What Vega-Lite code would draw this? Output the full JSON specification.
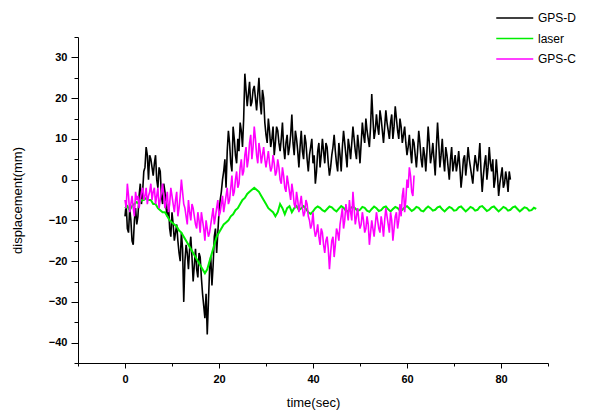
{
 "$schema": "https://vega.github.io/schema/vega-lite/v6.json",
 "width": 470, "height": 326,
 "autosize": "none",
 "padding": {"left": 78, "top": 37, "right": 41, "bottom": 49},
 "background": "white",
 "config": {"view": {"stroke": null}, "font": "Liberation Sans"},
 "data": {"values": [
{"t":0,"GPS-D":-9,"laser":-7,"GPS-C":-5},
{"t":0.25,"GPS-D":-6,"GPS-C":-7},
{"t":0.5,"GPS-D":-12,"laser":-6.5,"GPS-C":-1},
{"t":0.75,"GPS-D":-13,"GPS-C":-4},
{"t":1,"GPS-D":-7,"laser":-7.5,"GPS-C":-8},
{"t":1.25,"GPS-D":-10,"GPS-C":-6},
{"t":1.5,"GPS-D":-15,"laser":-6.5,"GPS-C":-4},
{"t":1.75,"GPS-D":-16,"GPS-C":-7},
{"t":2,"GPS-D":-10,"laser":-6,"GPS-C":-9},
{"t":2.25,"GPS-D":-7,"GPS-C":-3},
{"t":2.5,"GPS-D":-11,"laser":-5.5,"GPS-C":-5},
{"t":2.75,"GPS-D":-9,"GPS-C":-4},
{"t":3,"GPS-D":-4,"laser":-6,"GPS-C":-7},
{"t":3.25,"GPS-D":-1,"GPS-C":-5},
{"t":3.5,"GPS-D":-6,"laser":-5,"GPS-C":-3},
{"t":3.75,"GPS-D":-3,"GPS-C":-2},
{"t":4,"GPS-D":2,"laser":-5,"GPS-C":-5},
{"t":4.25,"GPS-D":3,"GPS-C":-4},
{"t":4.5,"GPS-D":8,"laser":-4.5,"GPS-C":-2},
{"t":4.75,"GPS-D":6,"GPS-C":-6},
{"t":5,"GPS-D":0,"laser":-5,"GPS-C":-4},
{"t":5.25,"GPS-D":6,"GPS-C":-3},
{"t":5.5,"GPS-D":5,"laser":-5,"GPS-C":-1},
{"t":5.75,"GPS-D":3,"GPS-C":-5},
{"t":6,"GPS-D":1,"laser":-6,"GPS-C":-3},
{"t":6.25,"GPS-D":4,"GPS-C":-2},
{"t":6.5,"GPS-D":6,"laser":-6,"GPS-C":-6},
{"t":6.75,"GPS-D":0,"GPS-C":-4},
{"t":7,"GPS-D":-2,"laser":-7,"GPS-C":-2},
{"t":7.25,"GPS-D":3,"GPS-C":-7},
{"t":7.5,"GPS-D":2,"laser":-7.5,"GPS-C":-5},
{"t":7.75,"GPS-D":-4,"GPS-C":-3},
{"t":8,"GPS-D":-6,"laser":-8,"GPS-C":-1},
{"t":8.25,"GPS-D":-1,"GPS-C":-4},
{"t":8.5,"GPS-D":-3,"laser":-8,"GPS-C":-7},
{"t":8.75,"GPS-D":-7,"GPS-C":-5},
{"t":9,"GPS-D":-9,"laser":-9,"GPS-C":-3},
{"t":9.25,"GPS-D":-6,"GPS-C":-8},
{"t":9.5,"GPS-D":-12,"laser":-10,"GPS-C":-6},
{"t":9.75,"GPS-D":-14,"GPS-C":-2},
{"t":10,"GPS-D":-8,"laser":-10.5,"GPS-C":-4},
{"t":10.25,"GPS-D":-11,"GPS-C":-6},
{"t":10.5,"GPS-D":-15,"laser":-11,"GPS-C":-8},
{"t":10.75,"GPS-D":-13,"GPS-C":-5},
{"t":11,"GPS-D":-11,"laser":-11.5,"GPS-C":-3},
{"t":11.25,"GPS-D":-15,"GPS-C":-9},
{"t":11.5,"GPS-D":-18,"laser":-12.5,"GPS-C":-7},
{"t":11.75,"GPS-D":-20,"GPS-C":-4},
{"t":12,"GPS-D":-13,"laser":-13,"GPS-C":0},
{"t":12.25,"GPS-D":-17,"GPS-C":-3},
{"t":12.5,"GPS-D":-30,"laser":-14,"GPS-C":-6},
{"t":12.75,"GPS-D":-20,"GPS-C":-7},
{"t":13,"GPS-D":-16,"laser":-15,"GPS-C":-9},
{"t":13.25,"GPS-D":-18,"GPS-C":-11},
{"t":13.5,"GPS-D":-22,"laser":-16,"GPS-C":-5},
{"t":13.75,"GPS-D":-17,"GPS-C":-8},
{"t":14,"GPS-D":-14,"laser":-17,"GPS-C":-10},
{"t":14.25,"GPS-D":-19,"GPS-C":-6},
{"t":14.5,"GPS-D":-25,"laser":-18,"GPS-C":-7},
{"t":14.75,"GPS-D":-21,"GPS-C":-9},
{"t":15,"GPS-D":-17,"laser":-19,"GPS-C":-11},
{"t":15.25,"GPS-D":-22,"GPS-C":-12},
{"t":15.5,"GPS-D":-24,"laser":-20,"GPS-C":-8},
{"t":15.75,"GPS-D":-18,"GPS-C":-10},
{"t":16,"GPS-D":-19,"laser":-21,"GPS-C":-13},
{"t":16.25,"GPS-D":-24,"GPS-C":-8},
{"t":16.5,"GPS-D":-28,"laser":-22,"GPS-C":-10},
{"t":16.75,"GPS-D":-31,"GPS-C":-12},
{"t":17,"GPS-D":-34,"laser":-23,"GPS-C":-15},
{"t":17.25,"GPS-D":-28,"GPS-C":-10},
{"t":17.5,"GPS-D":-38,"laser":-22,"GPS-C":-12},
{"t":17.75,"GPS-D":-30,"GPS-C":-14},
{"t":18,"GPS-D":-22,"laser":-20,"GPS-C":-13},
{"t":18.25,"GPS-D":-19,"GPS-C":-11},
{"t":18.5,"GPS-D":-26,"laser":-18,"GPS-C":-9},
{"t":18.75,"GPS-D":-21,"GPS-C":-7},
{"t":19,"GPS-D":-14,"laser":-16,"GPS-C":-11},
{"t":19.25,"GPS-D":-12,"GPS-C":-9},
{"t":19.5,"GPS-D":-18,"laser":-14,"GPS-C":-7},
{"t":19.75,"GPS-D":-13,"GPS-C":-5},
{"t":20,"GPS-D":-8,"laser":-13,"GPS-C":-9},
{"t":20.25,"GPS-D":-5,"GPS-C":-8},
{"t":20.5,"GPS-D":-3,"laser":-12,"GPS-C":-6},
{"t":20.75,"GPS-D":0,"GPS-C":-4},
{"t":21,"GPS-D":2,"laser":-11,"GPS-C":-8},
{"t":21.25,"GPS-D":5,"GPS-C":-6},
{"t":21.5,"GPS-D":-2,"laser":-10.5,"GPS-C":-4},
{"t":21.75,"GPS-D":7,"GPS-C":-2},
{"t":22,"GPS-D":12,"laser":-10,"GPS-C":-6},
{"t":22.25,"GPS-D":9,"GPS-C":-5},
{"t":22.5,"GPS-D":4,"laser":-9,"GPS-C":-2},
{"t":22.75,"GPS-D":2,"GPS-C":1},
{"t":23,"GPS-D":13,"laser":-8.5,"GPS-C":-4},
{"t":23.25,"GPS-D":10,"GPS-C":-3},
{"t":23.5,"GPS-D":6,"laser":-7.5,"GPS-C":0},
{"t":23.75,"GPS-D":4,"GPS-C":2},
{"t":24,"GPS-D":10,"laser":-7,"GPS-C":-2},
{"t":24.25,"GPS-D":7,"GPS-C":-1},
{"t":24.5,"GPS-D":14,"laser":-6,"GPS-C":3},
{"t":24.75,"GPS-D":12,"GPS-C":5},
{"t":25,"GPS-D":8,"laser":-5,"GPS-C":1},
{"t":25.25,"GPS-D":15,"GPS-C":2},
{"t":25.5,"GPS-D":26,"laser":-4.5,"GPS-C":6},
{"t":25.75,"GPS-D":22,"GPS-C":8},
{"t":26,"GPS-D":18,"laser":-3.5,"GPS-C":3},
{"t":26.25,"GPS-D":21,"GPS-C":5},
{"t":26.5,"GPS-D":24,"laser":-3,"GPS-C":9},
{"t":26.75,"GPS-D":18,"GPS-C":11},
{"t":27,"GPS-D":19,"laser":-2.5,"GPS-C":5},
{"t":27.25,"GPS-D":22,"GPS-C":8},
{"t":27.5,"GPS-D":23,"laser":-2,"GPS-C":13},
{"t":27.75,"GPS-D":20,"GPS-C":10},
{"t":28,"GPS-D":17,"laser":-2.5,"GPS-C":6},
{"t":28.25,"GPS-D":21,"GPS-C":4},
{"t":28.5,"GPS-D":25,"laser":-3,"GPS-C":9},
{"t":28.75,"GPS-D":19,"GPS-C":7},
{"t":29,"GPS-D":16,"laser":-4,"GPS-C":4},
{"t":29.25,"GPS-D":22,"GPS-C":6},
{"t":29.5,"GPS-D":20,"laser":-5,"GPS-C":8},
{"t":29.75,"GPS-D":14,"GPS-C":5},
{"t":30,"GPS-D":11,"laser":-6,"GPS-C":3},
{"t":30.25,"GPS-D":9,"GPS-C":5},
{"t":30.5,"GPS-D":15,"laser":-7,"GPS-C":7},
{"t":30.75,"GPS-D":12,"GPS-C":4},
{"t":31,"GPS-D":8,"laser":-7.5,"GPS-C":2},
{"t":31.25,"GPS-D":10,"GPS-C":3},
{"t":31.5,"GPS-D":13,"laser":-8,"GPS-C":6},
{"t":31.75,"GPS-D":6,"GPS-C":4},
{"t":32,"GPS-D":9,"laser":-9,"GPS-C":1},
{"t":32.25,"GPS-D":13,"GPS-C":2},
{"t":32.5,"GPS-D":12,"laser":-8,"GPS-C":5},
{"t":32.75,"GPS-D":9,"GPS-C":3},
{"t":33,"GPS-D":7,"laser":-6,"GPS-C":0},
{"t":33.25,"GPS-D":10,"GPS-C":-1},
{"t":33.5,"GPS-D":14,"laser":-7,"GPS-C":3},
{"t":33.75,"GPS-D":8,"GPS-C":1},
{"t":34,"GPS-D":5,"laser":-8.5,"GPS-C":-2},
{"t":34.25,"GPS-D":9,"GPS-C":-3},
{"t":34.5,"GPS-D":11,"laser":-7,"GPS-C":1},
{"t":34.75,"GPS-D":6,"GPS-C":-1},
{"t":35,"GPS-D":8,"laser":-6.5,"GPS-C":-3},
{"t":35.25,"GPS-D":11,"GPS-C":-5},
{"t":35.5,"GPS-D":16,"laser":-8,"GPS-C":-1},
{"t":35.75,"GPS-D":9,"GPS-C":-3},
{"t":36,"GPS-D":6,"laser":-7,"GPS-C":-6},
{"t":36.25,"GPS-D":12,"GPS-C":-7},
{"t":36.5,"GPS-D":10,"laser":-6.5,"GPS-C":-3},
{"t":36.75,"GPS-D":7,"GPS-C":-5},
{"t":37,"GPS-D":3,"laser":-7.5,"GPS-C":-8},
{"t":37.25,"GPS-D":8,"GPS-C":-6},
{"t":37.5,"GPS-D":12,"laser":-7,"GPS-C":-4},
{"t":37.75,"GPS-D":7,"GPS-C":-7},
{"t":38,"GPS-D":5,"laser":-6.5,"GPS-C":-9},
{"t":38.25,"GPS-D":11,"GPS-C":-8},
{"t":38.5,"GPS-D":9,"laser":-7.2,"GPS-C":-5},
{"t":38.75,"GPS-D":5,"GPS-C":-6},
{"t":39,"GPS-D":2,"laser":-8,"GPS-C":-9},
{"t":39.25,"GPS-D":6,"GPS-C":-10},
{"t":39.5,"GPS-D":8,"laser":-8.4,"GPS-C":-12},
{"t":39.75,"GPS-D":10,"GPS-C":-11},
{"t":40,"GPS-D":4,"laser":-7.8,"GPS-C":-8},
{"t":40.25,"GPS-D":6,"GPS-C":-12},
{"t":40.5,"GPS-D":-1,"laser":-7,"GPS-C":-14},
{"t":40.75,"GPS-D":2,"GPS-C":-13},
{"t":41,"GPS-D":7,"laser":-6.6,"GPS-C":-11},
{"t":41.25,"GPS-D":9,"GPS-C":-14},
{"t":41.5,"GPS-D":3,"laser":-6.9,"GPS-C":-16},
{"t":41.75,"GPS-D":6,"GPS-C":-12},
{"t":42,"GPS-D":10,"laser":-7.5,"GPS-C":-13},
{"t":42.25,"GPS-D":7,"GPS-C":-16},
{"t":42.5,"GPS-D":4,"laser":-7.8,"GPS-C":-18},
{"t":42.75,"GPS-D":9,"GPS-C":-15},
{"t":43,"GPS-D":8,"laser":-7.2,"GPS-C":-14},
{"t":43.25,"GPS-D":4,"GPS-C":-17},
{"t":43.5,"GPS-D":1,"laser":-6.6,"GPS-C":-22},
{"t":43.75,"GPS-D":3,"GPS-C":-18},
{"t":44,"GPS-D":6,"laser":-6.8,"GPS-C":-15},
{"t":44.25,"GPS-D":8,"GPS-C":-14},
{"t":44.5,"GPS-D":11,"laser":-7.4,"GPS-C":-19},
{"t":44.75,"GPS-D":7,"GPS-C":-16},
{"t":45,"GPS-D":4,"laser":-7.8,"GPS-C":-12},
{"t":45.25,"GPS-D":2,"GPS-C":-13},
{"t":45.5,"GPS-D":9,"laser":-7.1,"GPS-C":-15},
{"t":45.75,"GPS-D":6,"GPS-C":-11},
{"t":46,"GPS-D":2,"laser":-6.5,"GPS-C":-9},
{"t":46.25,"GPS-D":8,"GPS-C":-7},
{"t":46.5,"GPS-D":12,"laser":-6.9,"GPS-C":-12},
{"t":46.75,"GPS-D":9,"GPS-C":-10},
{"t":47,"GPS-D":6,"laser":-7.6,"GPS-C":-6},
{"t":47.25,"GPS-D":3,"GPS-C":-8},
{"t":47.5,"GPS-D":10,"laser":-7.8,"GPS-C":-10},
{"t":47.75,"GPS-D":8,"GPS-C":-5},
{"t":48,"GPS-D":5,"laser":-7.0,"GPS-C":-8},
{"t":48.25,"GPS-D":9,"GPS-C":-10},
{"t":48.5,"GPS-D":13,"laser":-6.6,"GPS-C":-3},
{"t":48.75,"GPS-D":10,"GPS-C":-7},
{"t":49,"GPS-D":7,"laser":-7.1,"GPS-C":-11},
{"t":49.25,"GPS-D":5,"GPS-C":-9},
{"t":49.5,"GPS-D":11,"laser":-7.7,"GPS-C":-7},
{"t":49.75,"GPS-D":8,"GPS-C":-10},
{"t":50,"GPS-D":4,"laser":-7.4,"GPS-C":-12},
{"t":50.25,"GPS-D":9,"GPS-C":-11},
{"t":50.5,"GPS-D":14,"laser":-6.7,"GPS-C":-8},
{"t":50.75,"GPS-D":11,"GPS-C":-10},
{"t":51,"GPS-D":9,"laser":-6.9,"GPS-C":-13},
{"t":51.25,"GPS-D":15,"GPS-C":-12},
{"t":51.5,"GPS-D":12,"laser":-7.6,"GPS-C":-9},
{"t":51.75,"GPS-D":10,"GPS-C":-11},
{"t":52,"GPS-D":8,"laser":-7.9,"GPS-C":-16},
{"t":52.25,"GPS-D":13,"GPS-C":-13},
{"t":52.5,"GPS-D":21,"laser":-7.2,"GPS-C":-10},
{"t":52.75,"GPS-D":15,"GPS-C":-12},
{"t":53,"GPS-D":10,"laser":-6.6,"GPS-C":-14},
{"t":53.25,"GPS-D":12,"GPS-C":-11},
{"t":53.5,"GPS-D":16,"laser":-7.0,"GPS-C":-8},
{"t":53.75,"GPS-D":13,"GPS-C":-10},
{"t":54,"GPS-D":11,"laser":-7.7,"GPS-C":-12},
{"t":54.25,"GPS-D":17,"GPS-C":-13},
{"t":54.5,"GPS-D":15,"laser":-7.5,"GPS-C":-9},
{"t":54.75,"GPS-D":12,"GPS-C":-11},
{"t":55,"GPS-D":9,"laser":-6.8,"GPS-C":-14},
{"t":55.25,"GPS-D":13,"GPS-C":-10},
{"t":55.5,"GPS-D":17,"laser":-6.6,"GPS-C":-7},
{"t":55.75,"GPS-D":14,"GPS-C":-9},
{"t":56,"GPS-D":12,"laser":-7.3,"GPS-C":-11},
{"t":56.25,"GPS-D":10,"GPS-C":-13},
{"t":56.5,"GPS-D":14,"laser":-7.8,"GPS-C":-8},
{"t":56.75,"GPS-D":16,"GPS-C":-10},
{"t":57,"GPS-D":10,"laser":-7.2,"GPS-C":-15},
{"t":57.25,"GPS-D":13,"GPS-C":-12},
{"t":57.5,"GPS-D":18,"laser":-6.7,"GPS-C":-9},
{"t":57.75,"GPS-D":15,"GPS-C":-8},
{"t":58,"GPS-D":12,"laser":-7.0,"GPS-C":-12},
{"t":58.25,"GPS-D":10,"GPS-C":-10},
{"t":58.5,"GPS-D":15,"laser":-7.6,"GPS-C":-6},
{"t":58.75,"GPS-D":13,"GPS-C":-9},
{"t":59,"GPS-D":9,"laser":-7.4,"GPS-C":-4},
{"t":59.25,"GPS-D":11,"GPS-C":-2},
{"t":59.5,"GPS-D":13,"laser":-6.8,"GPS-C":-8},
{"t":59.75,"GPS-D":9,"GPS-C":-5},
{"t":60,"GPS-D":6,"laser":-6.5,"GPS-C":0},
{"t":60.25,"GPS-D":8,"GPS-C":-2},
{"t":60.5,"GPS-D":11,"laser":-7.1,"GPS-C":3},
{"t":60.75,"GPS-D":7,"GPS-C":1},
{"t":61,"GPS-D":4,"laser":-7.7,"GPS-C":-3},
{"t":61.25,"GPS-D":10,"GPS-C":-4},
{"t":61.5,"GPS-D":9,"laser":-7.3,"GPS-C":1},
{"t":61.75,"GPS-D":6},
{"t":62,"GPS-D":3,"laser":-6.7},
{"t":62.25,"GPS-D":7},
{"t":62.5,"GPS-D":12,"laser":-6.9},
{"t":62.75,"GPS-D":9},
{"t":63,"GPS-D":5,"laser":-7.6},
{"t":63.25,"GPS-D":3},
{"t":63.5,"GPS-D":8,"laser":-7.8},
{"t":63.75,"GPS-D":6},
{"t":64,"GPS-D":2,"laser":-7.1},
{"t":64.25,"GPS-D":7},
{"t":64.5,"GPS-D":13,"laser":-6.6},
{"t":64.75,"GPS-D":9},
{"t":65,"GPS-D":4,"laser":-7.0},
{"t":65.25,"GPS-D":6},
{"t":65.5,"GPS-D":9,"laser":-7.6},
{"t":65.75,"GPS-D":5},
{"t":66,"GPS-D":1,"laser":-7.4},
{"t":66.25,"GPS-D":8},
{"t":66.5,"GPS-D":14,"laser":-6.8},
{"t":66.75,"GPS-D":9},
{"t":67,"GPS-D":3,"laser":-6.6},
{"t":67.25,"GPS-D":6},
{"t":67.5,"GPS-D":10,"laser":-7.3},
{"t":67.75,"GPS-D":5},
{"t":68,"GPS-D":2,"laser":-7.8},
{"t":68.25,"GPS-D":8},
{"t":68.5,"GPS-D":6,"laser":-7.2},
{"t":68.75,"GPS-D":3},
{"t":69,"GPS-D":0,"laser":-6.7},
{"t":69.25,"GPS-D":5},
{"t":69.5,"GPS-D":8,"laser":-7.0},
{"t":69.75,"GPS-D":2},
{"t":70,"GPS-D":4,"laser":-7.6},
{"t":70.25,"GPS-D":6},
{"t":70.5,"GPS-D":2,"laser":-7.5},
{"t":70.75,"GPS-D":4},
{"t":71,"GPS-D":7,"laser":-6.8},
{"t":71.25,"GPS-D":3},
{"t":71.5,"GPS-D":-2,"laser":-6.6},
{"t":71.75,"GPS-D":1},
{"t":72,"GPS-D":5,"laser":-7.2},
{"t":72.25,"GPS-D":6},
{"t":72.5,"GPS-D":1,"laser":-7.8},
{"t":72.75,"GPS-D":4},
{"t":73,"GPS-D":8,"laser":-7.3},
{"t":73.25,"GPS-D":5},
{"t":73.5,"GPS-D":3,"laser":-6.7},
{"t":73.75,"GPS-D":1},
{"t":74,"GPS-D":-1,"laser":-7.0},
{"t":74.25,"GPS-D":3},
{"t":74.5,"GPS-D":6,"laser":-7.6},
{"t":74.75,"GPS-D":4},
{"t":75,"GPS-D":2,"laser":-7.4},
{"t":75.25,"GPS-D":5},
{"t":75.5,"GPS-D":9,"laser":-6.7},
{"t":75.75,"GPS-D":2},
{"t":76,"GPS-D":-3,"laser":-6.5},
{"t":76.25,"GPS-D":1},
{"t":76.5,"GPS-D":4,"laser":-7.1},
{"t":76.75,"GPS-D":6},
{"t":77,"GPS-D":0,"laser":-7.7},
{"t":77.25,"GPS-D":3},
{"t":77.5,"GPS-D":8,"laser":-7.4},
{"t":77.75,"GPS-D":4},
{"t":78,"GPS-D":2,"laser":-6.8},
{"t":78.25,"GPS-D":5},
{"t":78.5,"GPS-D":-2,"laser":-6.6},
{"t":78.75,"GPS-D":0},
{"t":79,"GPS-D":5,"laser":-7.2},
{"t":79.25,"GPS-D":1},
{"t":79.5,"GPS-D":-4,"laser":-7.8},
{"t":79.75,"GPS-D":-1},
{"t":80,"GPS-D":1,"laser":-7.3},
{"t":80.25,"GPS-D":3},
{"t":80.5,"GPS-D":-2,"laser":-6.7},
{"t":80.75,"GPS-D":-1},
{"t":81,"GPS-D":2,"laser":-7.0},
{"t":81.25,"GPS-D":0},
{"t":81.5,"GPS-D":-3,"laser":-7.6},
{"t":81.75,"GPS-D":2},
{"t":82,"GPS-D":0,"laser":-7.4},
{"t":82.5,"laser":-6.8},
{"t":83,"laser":-6.6},
{"t":83.5,"laser":-7.2},
{"t":84,"laser":-7.8},
{"t":84.5,"laser":-7.3},
{"t":85,"laser":-6.8},
{"t":85.5,"laser":-7.0},
{"t":86,"laser":-7.6},
{"t":86.5,"laser":-7.5},
{"t":87,"laser":-6.9},
{"t":87.5,"laser":-7.2}
 ]},
 "transform": [
  {"fold": ["GPS-D", "laser", "GPS-C"], "as": ["series", "v"]},
  {"filter": "isValid(datum.v)"}
 ],
 "layer": [
  {
   "encoding": {
    "x": {"field": "t", "type": "quantitative",
          "scale": {"domain": [-10, 90], "nice": false},
          "axis": {"orient": "bottom", "values": [0, 20, 40, 60, 80], "grid": false, "title": "time(sec)",
                   "domainColor": "#000", "tickColor": "#000", "tickSize": 5, "labelPadding": 5,
                   "labelColor": "#000", "labelFontSize": 11, "labelFontWeight": "bold", "titleFontSize": 13, "titleFontWeight": "normal",
                   "titleColor": "#000", "titlePadding": 12}},
    "y": {"field": "v", "type": "quantitative",
          "scale": {"domain": [-45, 35], "nice": false, "zero": false},
          "axis": {"orient": "left", "values": [-40, -30, -20, -10, 0, 10, 20, 30], "grid": false, "title": "displacement(mm)",
                   "domainColor": "#000", "tickColor": "#000", "tickSize": 7, "labelPadding": 4,
                   "labelColor": "#000", "labelFontSize": 11, "labelFontWeight": "bold", "titleFontSize": 13, "titleFontWeight": "normal",
                   "titleColor": "#000", "titlePadding": 24}},
    "color": {"field": "series", "type": "nominal",
              "scale": {"domain": ["GPS-D", "laser", "GPS-C"], "range": ["#000000", "#00ee00", "#ff00ff"]},
              "legend": {"title": null, "orient": "none", "legendX": 436, "legendY": -29,
                         "symbolType": "M-3,0H1", "symbolSize": 342, "symbolStrokeWidth": 1.3,
                         "labelFontSize": 12, "labelColor": "#000", "rowPadding": 4.5}}
   },
   "layer": [
    {"transform": [{"filter": "datum.series === 'GPS-D'"}], "mark": {"type": "line", "strokeWidth": 1.6}},
    {"transform": [{"filter": "datum.series === 'laser'"}], "mark": {"type": "line", "strokeWidth": 2}},
    {"transform": [{"filter": "datum.series === 'GPS-C'"}], "mark": {"type": "line", "strokeWidth": 1.6}}
   ]
  },
  {
   "mark": {"type": "point", "opacity": 0},
   "encoding": {
    "x": {"field": "t", "type": "quantitative",
          "axis": {"orient": "bottom", "values": [-10, 10, 30, 50, 70, 90], "grid": false, "title": null,
                   "labels": false, "domain": false, "tickColor": "#000", "tickSize": 3}},
    "y": {"field": "v", "type": "quantitative",
          "axis": {"orient": "left", "values": [-45, -35, -25, -15, -5, 5, 15, 25, 35], "grid": false, "title": null,
                   "labels": false, "domain": false, "tickColor": "#000", "tickSize": 4}}
   }
  }
 ],
 "resolve": {"axis": {"x": "independent", "y": "independent"}}
}
